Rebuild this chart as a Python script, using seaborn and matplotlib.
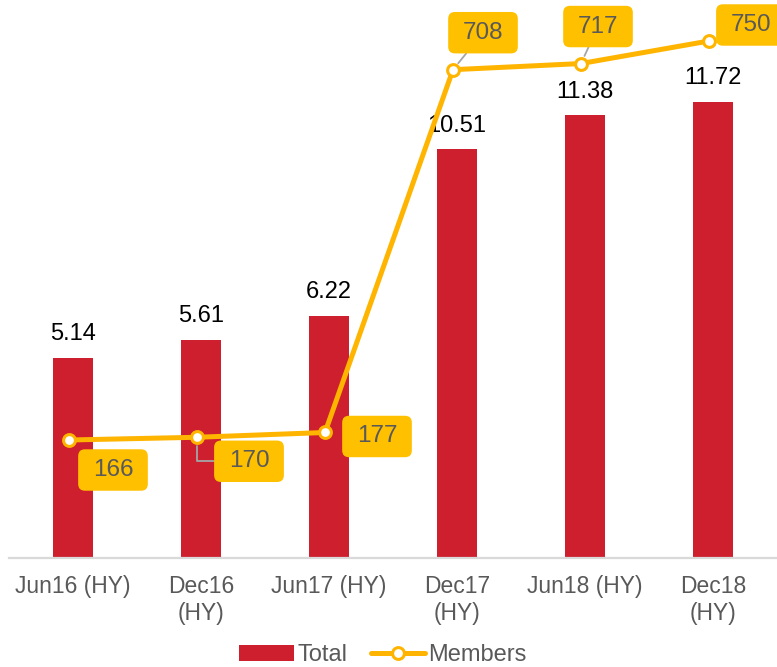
import numpy as np
import pandas as pd
import seaborn as sns
import matplotlib.pyplot as plt
from matplotlib.patches import BoxStyle
from matplotlib.transforms import offset_copy

# Chart data
periods = ["Jun16 (HY)", "Dec16\n(HY)", "Jun17 (HY)", "Dec17\n(HY)", "Jun18 (HY)", "Dec18\n(HY)"]
total = [5.14, 5.61, 6.22, 10.51, 11.38, 11.72]
members = [166, 170, 177, 708, 717, 750]

bar_red = "#CD1F2E"
line_gold = "#FFB400"
box_gold = "#FFC000"
grey_txt = "#595959"

sns.set_style("white")
plt.rcParams["font.family"] = ["Liberation Sans", "DejaVu Sans"]

df = pd.DataFrame({"period": periods, "total": total, "members": members})
df["pos"] = np.arange(len(df))

fig = plt.figure(figsize=(7.77, 6.67), dpi=100)
ax = fig.add_axes([9 / 777, 109 / 667, 768 / 777, 558 / 667])

sns.barplot(data=df, x="period", y="total", color=bar_red, width=0.32,
            saturation=1, linewidth=0, label="Total", ax=ax)
if ax.get_legend() is not None:
    ax.get_legend().remove()
ax.bar_label(ax.containers[0], fmt="%.2f", padding=9, fontsize=17, color="black")
ax.set_ylim(0, 14.34)
ax.set_xlim(-0.5, 5.5)
ax.set_xlabel("")
ax.set_ylabel("")
ax.set_yticks([])
ax.tick_params(axis="x", length=0, pad=12, labelsize=16.5, labelcolor=grey_txt)
for t in ax.get_xticklabels():
    t.set_linespacing(1.25)
for s in ["left", "right", "top"]:
    ax.spines[s].set_visible(False)
ax.spines["bottom"].set_color("#D9D9D9")
ax.spines["bottom"].set_linewidth(1.6)

# secondary axis for members
ax2 = ax.twinx()
sns.lineplot(data=df, x="pos", y="members", sort=False, color=line_gold, lw=3.6,
             marker="o", markersize=8.5, markerfacecolor="white",
             markeredgecolor=line_gold, markeredgewidth=2.2,
             label="Members", legend=False, ax=ax2)
ax2.set_ylim(-6.7, 810)
ax2.set_xlim(-0.5, 5.5)
ax2.set_yticks([])
ax2.set_ylabel("")
ax2.set_xlabel("")
for s in ax2.spines.values():
    s.set_visible(False)

shift = offset_copy(ax2.transData, fig=fig, x=-4, y=0, units="dots")
ax2.lines[0].set_transform(shift)


class LabelBox:
    def __call__(self, x0, y0, width, height, mutation_size):
        px, py = 0.6 * mutation_size, 0.4 * mutation_size
        return BoxStyle.Round(pad=0, rounding_size=0.28)(
            x0 - px, y0 - py, width + 2 * px, height + 2 * py, mutation_size)


# box offsets (pixels) and whether a leader line is drawn
box_offsets = [(44, -30), (52, -24), (52, -4), (30, 37), (17, 37), (42, 16)]
leaders = [None, "angle,angleA=0,angleB=90,rad=0", None, "arc3", "arc3", None]

for i, (val, off, conn) in enumerate(zip(members, box_offsets, leaders)):
    arrow = None
    if conn:
        arrow = dict(arrowstyle="-", color="#A6A6A6", lw=1.3,
                     connectionstyle=conn, shrinkA=0, shrinkB=6)
    ax2.annotate(str(val), xy=(i, val), xycoords=shift,
                 xytext=off, textcoords="offset pixels",
                 ha="center", va="center", fontsize=17.5, color=grey_txt,
                 bbox=dict(boxstyle=LabelBox(), fc=box_gold, ec="none"),
                 arrowprops=arrow, annotation_clip=False, zorder=5)

h1, l1 = ax.get_legend_handles_labels()
h2, l2 = ax2.get_legend_handles_labels()
fig.legend(h1 + h2, l1 + l2, loc="lower center", bbox_to_anchor=(0.493, -0.031),
           ncol=2, frameon=False, fontsize=17, labelcolor=grey_txt,
           handlelength=2.3, handletextpad=0.15, columnspacing=1.0)

fig.savefig("out.png", dpi=100)
